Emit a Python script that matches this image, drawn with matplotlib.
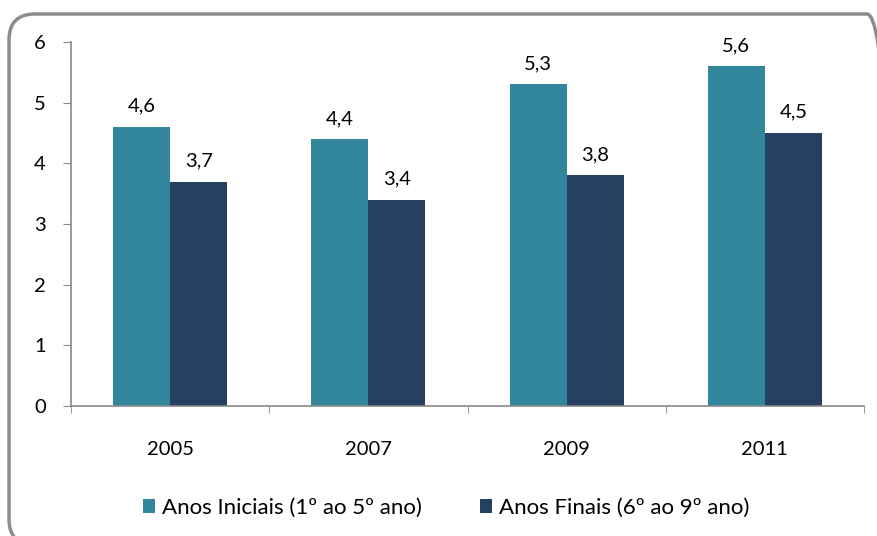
import matplotlib
matplotlib.use("Agg")
import matplotlib.pyplot as plt
from matplotlib.patches import FancyBboxPatch
from matplotlib.transforms import Affine2D
import numpy as np

years = ["2005", "2007", "2009", "2011"]
iniciais = [4.6, 4.4, 5.3, 5.6]
finais = [3.7, 3.4, 3.8, 4.5]
labels_series = ["Anos Iniciais (1º ao 5º ano)", "Anos Finais (6º ao 9º ano)"]
c1 = "#31869B"
c2 = "#254061"

plt.rcParams['font.family'] = ['Lato', 'DejaVu Sans']
FS = 14.5

fig = plt.figure(figsize=(8.77, 5.36), dpi=100)
# rounded frame in pixel coordinates (origin bottom-left)
frame = FancyBboxPatch((9, -9), 884, 531,
                       boxstyle="round,pad=0,rounding_size=26",
                       transform=Affine2D(), fill=False,
                       edgecolor="#8c8c8c", linewidth=2.5)
fig.patches.append(frame)

ax = fig.add_axes([71/877, 130/536, 793/877, 364/536])
x = np.arange(len(years))
w = 0.288
b1 = ax.bar(x - w/2, iniciais, w, color=c1, label=labels_series[0])
b2 = ax.bar(x + w/2, finais, w, color=c2, label=labels_series[1])
for bars, vals in ((b1, iniciais), (b2, finais)):
    for r, v in zip(bars, vals):
        ax.text(r.get_x() + r.get_width()/2, v + 0.2, f"{v:.1f}".replace(".", ","),
                ha="center", va="bottom", fontsize=FS)

ax.set_xlim(-0.5, 3.5)
ax.set_ylim(0, 6)
ax.set_yticks(range(7))
ax.set_xticks(x)
ax.set_xticklabels(years)
ax.set_xticks(np.arange(-0.5, 4, 1), minor=True)
ax.tick_params(axis='x', which='major', length=0, pad=25, labelsize=FS)
ax.tick_params(axis='x', which='minor', length=5, color="#888888", direction='out')
ax.tick_params(axis='y', length=6, color="#888888", labelsize=FS, pad=12)
for s in ("top", "right"):
    ax.spines[s].set_visible(False)
for s in ("left", "bottom"):
    ax.spines[s].set_color("#888888")
    ax.spines[s].set_linewidth(1.2)

fig.legend(handles=[b1, b2], labels=labels_series, loc="center",
           bbox_to_anchor=(446/877, 1 - 508/536), ncol=2, frameon=False,
           fontsize=16, handlelength=0.55, handleheight=0.55, handletextpad=0.3,
           columnspacing=2.6)

fig.savefig("out.png", dpi=100)
